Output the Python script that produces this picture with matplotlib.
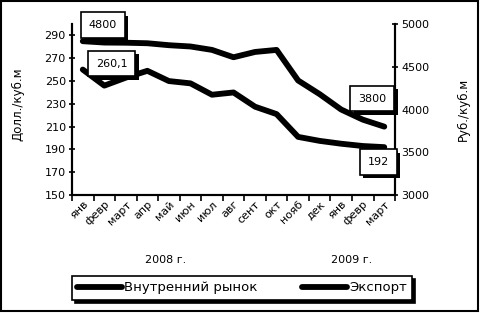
# coding: utf-8
import numpy as np
from matplotlib import pyplot as plt
from matplotlib.patches import Rectangle
import matplotlib.patheffects as pe

months = ['янв', 'февр', 'март', 'апр', 'май', 'июн', 'июл', 'авг',
          'сент', 'окт', 'нояб', 'дек', 'янв', 'февр', 'март']
# руб./куб.м (правая ось)
domestic_rub = [4800, 4784, 4782, 4776, 4753, 4738, 4698, 4612,
                4674, 4698, 4340, 4180, 4000, 3882, 3800]
# долл./куб.м (левая ось)
export_usd = [260.1, 246, 253, 259, 250, 248, 238, 240,
              227.5, 221, 201, 197.5, 195, 193, 192]

plt.rcParams['font.family'] = ['DejaVu Sans']
plt.rcParams['font.size'] = 8

fig = plt.figure(figsize=(4.8, 3.13), dpi=100)
ax = fig.add_axes([0.15, 0.377, 0.673, 0.546])
ax2 = ax.twinx()

x = np.arange(len(months))
l2, = ax.plot(x, export_usd, color='black', lw=4.2, solid_capstyle='round',
              solid_joinstyle='round', label='Экспорт')
l1, = ax2.plot(x, domestic_rub, color='black', lw=4.2, solid_capstyle='round',
               solid_joinstyle='round', label='Внутренний рынок')

ax.set_xlim(-0.5, len(months) - 0.5)
ax.set_ylim(150, 300)
ax.set_yticks(np.arange(150, 291, 20))
ax2.set_ylim(3000, 5000)
ax2.set_yticks(np.arange(3000, 5001, 500))

ax.set_xticks(x)
ax.set_xticklabels(months, rotation=45, ha='right', rotation_mode='anchor')
ax.set_xticks(np.arange(-0.5, len(months), 1), minor=True)
ax.tick_params(axis='x', which='major', length=0, pad=3)
ax.tick_params(axis='x', which='minor', length=4, width=1.2, direction='out')
ax.tick_params(axis='y', length=5, width=1.2, direction='inout', pad=2)
ax2.tick_params(axis='y', length=5, width=1.2, direction='inout', pad=2)

for a in (ax, ax2):
    a.spines['top'].set_visible(False)
    for s in ('left', 'right', 'bottom'):
        a.spines[s].set_linewidth(1.5)

ax.set_ylabel('Долл./куб.м', fontsize=8.5)
ax.yaxis.set_label_coords(-0.148, 0.53)
ax2.set_ylabel('Руб./куб.м', fontsize=8.5)
ax2.yaxis.set_label_coords(1.19, 0.5)

# подписи значений
def label(a, xi, yi, txt, dx, dy):
    t = a.annotate(txt, (xi, yi), xytext=(dx, dy), textcoords='offset pixels',
                   ha='center', va='center', color='black', zorder=6,
                   bbox=dict(boxstyle='square,pad=0.7', fc='white', ec='black', lw=1.2))
    t.get_bbox_patch().set_path_effects([
        pe.SimplePatchShadow(offset=(2.5, -2.5), shadow_rgbFace='black', alpha=1),
        pe.Normal()])

label(ax2, x[0], domestic_rub[0], '4800', 20, 16)
label(ax2, x[-1], domestic_rub[-1], '3800', -12, 28)
label(ax, x[0], export_usd[0], '260,1', 29, 6)
label(ax, x[-1], export_usd[-1], '192', -6, -15)
ax.set_zorder(ax2.get_zorder() + 1)
ax.patch.set_visible(False)

fig.text(0.346, 0.17, '2008 г.', ha='center', va='center', fontsize=8)
fig.text(0.733, 0.17, '2009 г.', ha='center', va='center', fontsize=8)

leg = fig.legend([l1, l2], ['Внутренний рынок', 'Экспорт'], loc='center',
                 bbox_to_anchor=(0.504, 0.08), ncol=2, fontsize=9.5,
                 frameon=True, fancybox=False, handlelength=3.4,
                 handletextpad=0.15, columnspacing=3.4, borderpad=0.4,
                 shadow={'color': 'black', 'alpha': 1})
leg.get_frame().set_edgecolor('black')
leg.get_frame().set_linewidth(1.2)

fig.patches.append(Rectangle((0.003, 0.006), 0.992, 0.99, transform=fig.transFigure,
                             fill=False, lw=1.5, ec='black'))

plt.savefig('out.png', dpi=100)
